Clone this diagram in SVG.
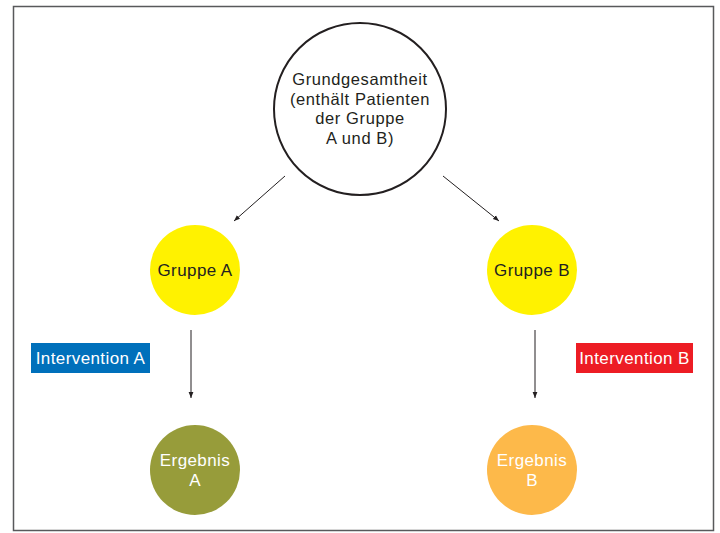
<svg xmlns="http://www.w3.org/2000/svg" width="720" height="533" viewBox="0 0 720 533">
  <defs>
    <marker id="arrow" viewBox="0 0 10 10" refX="10" refY="5" markerWidth="6" markerHeight="6" orient="auto" markerUnits="userSpaceOnUse">
      <path d="M0,1 L10,5 L0,9 Z" fill="#231f20"/>
    </marker>
    <style>
      text { font-family: "Liberation Sans", Arial, sans-serif; font-size: 17px; letter-spacing: 0.4px; text-anchor: middle; }
      .big { font-size: 16.5px; letter-spacing: 0.6px; }
      .dark { fill: #231f20; }
      .light { fill: #ffffff; }
      .conn { stroke: #231f20; stroke-width: 1; fill: none; marker-end: url(#arrow); }
    </style>
  </defs>
  <rect width="720" height="533" fill="#ffffff"/>
  <!-- outer frame -->
  <rect x="13.5" y="6.5" width="700" height="524" fill="none" stroke="#58595b" stroke-width="1.5"/>

  <g id="connectors">
    <line class="conn" x1="285" y1="176" x2="234" y2="221"/>
    <line class="conn" x1="443" y1="176" x2="499" y2="221"/>
    <line class="conn" x1="191" y1="330" x2="191" y2="398"/>
    <line class="conn" x1="535" y1="330" x2="535" y2="398"/>
  </g>

  <g id="grundgesamtheit">
    <circle cx="360" cy="109" r="86" fill="#ffffff" stroke="#231f20" stroke-width="2"/>
    <text class="dark big" x="360" y="85">Grundgesamtheit</text>
    <text class="dark big" x="360" y="104.5">(enthält Patienten</text>
    <text class="dark big" x="360" y="124">der Gruppe</text>
    <text class="dark big" x="360" y="143.5">A und B)</text>
  </g>

  <g id="gruppe-a">
    <circle cx="195" cy="270" r="45" fill="#fff200"/>
    <text class="dark" x="195" y="275.5">Gruppe A</text>
  </g>

  <g id="gruppe-b">
    <circle cx="532" cy="270" r="45" fill="#fff200"/>
    <text class="dark" x="532" y="275.5">Gruppe B</text>
  </g>

  <g id="intervention-a">
    <rect x="31" y="343" width="119" height="30" fill="#0070bb"/>
    <text class="light" x="90.5" y="364">Intervention A</text>
  </g>

  <g id="intervention-b">
    <rect x="576" y="343" width="117" height="30" fill="#ed1c24"/>
    <text class="light" x="634.5" y="364">Intervention B</text>
  </g>

  <g id="ergebnis-a">
    <circle cx="195" cy="470" r="45" fill="#979c3a"/>
    <text class="light" x="195" y="466">Ergebnis</text>
    <text class="light" x="195" y="486">A</text>
  </g>

  <g id="ergebnis-b">
    <circle cx="532" cy="470" r="45" fill="#fdb94a"/>
    <text class="light" x="532" y="466">Ergebnis</text>
    <text class="light" x="532" y="486">B</text>
  </g>
</svg>
